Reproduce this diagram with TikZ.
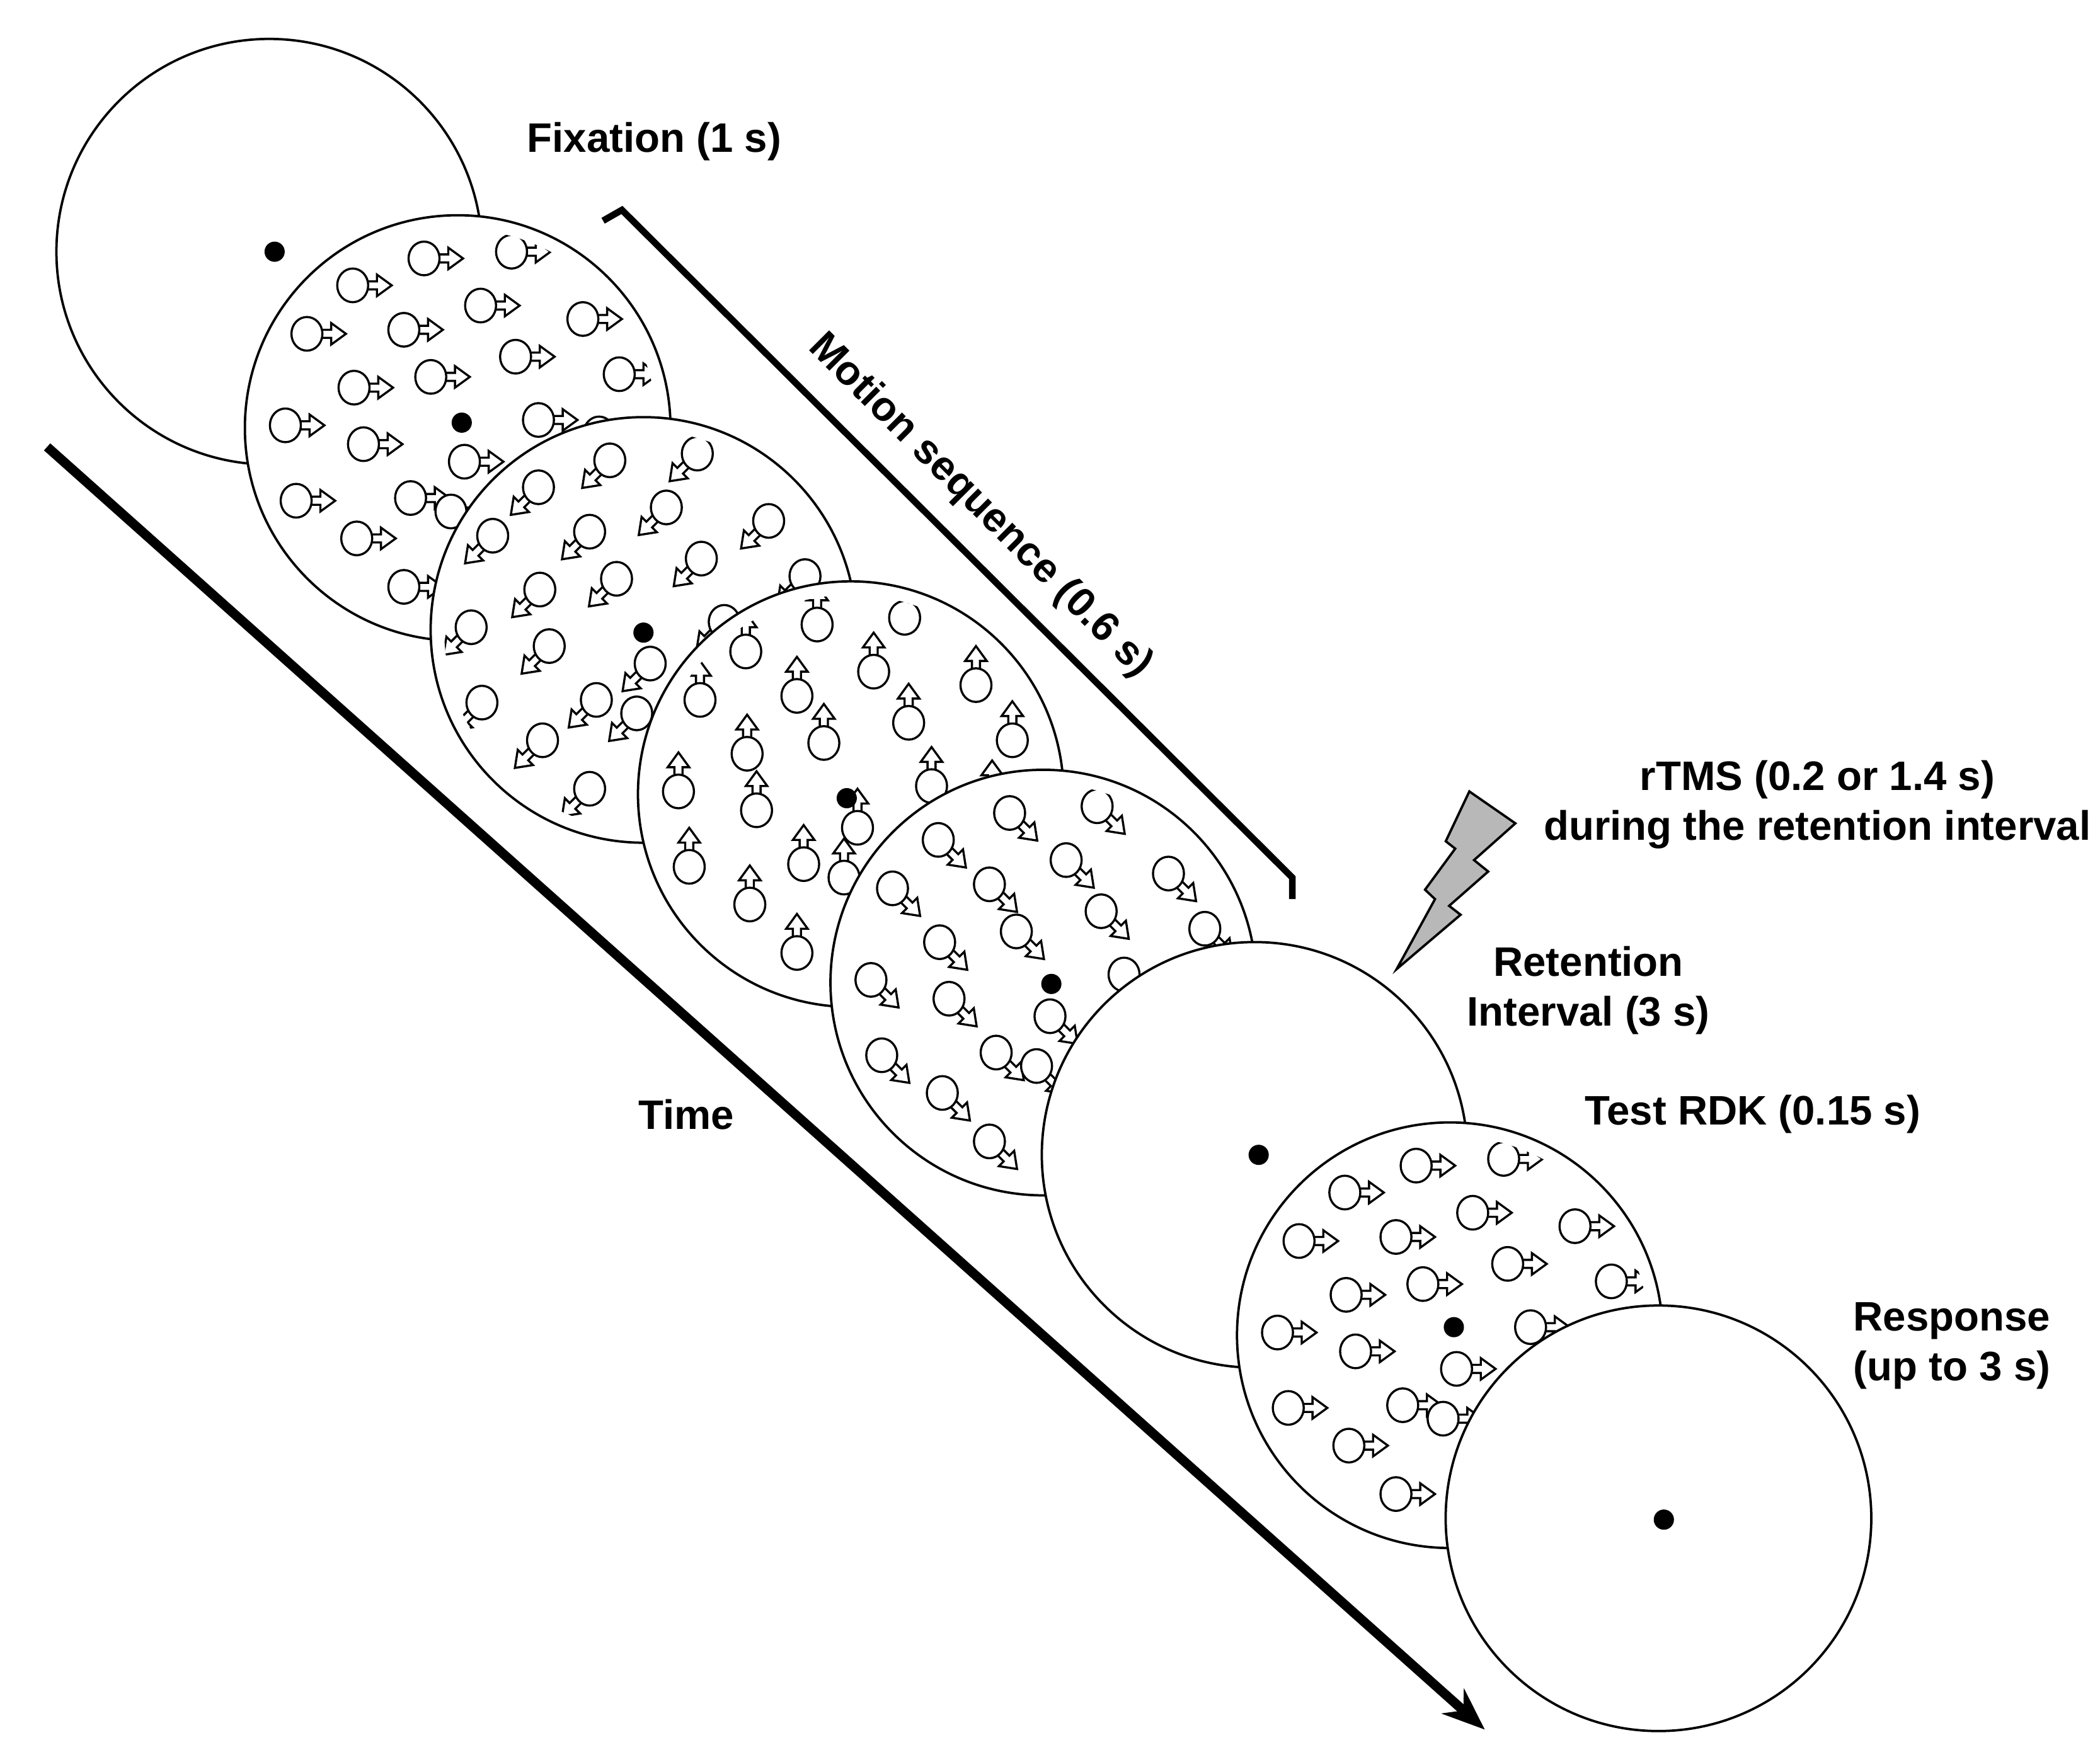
\documentclass[tikz,border=0pt]{standalone}
\usepackage{fontspec}
\setmainfont{Liberation Sans}
\usetikzlibrary{arrows.meta}
\tikzset{
  disk/.style={circle,draw,fill=white,line width=0.5pt,minimum size=3.16cm,inner sep=0pt},
  fix/.style={circle,fill=black,minimum size=0.15cm,inner sep=0pt},
  lbl/.style={font=\fontsize{8.7}{10.5}\selectfont\bfseries,align=center},
  pics/blob/.style={code={
    \draw[fill=white,line width=0.45pt,rotate=#1] (9,-3) -- (18,-3) -- (18,-8) -- (29,0) -- (18,8) -- (18,3) -- (9,3) -- cycle;
    \draw[fill=white,line width=0.45pt] (0,0) ellipse (11.5 and 12.5);
  }}
}
\newcommand\rdkfield[3]{%
  \begin{scope}[shift={(#1,#2)}]
    \clip (0,0) circle (148);
    \foreach \dx/\dy in {-78/106,-25/126,40/131,93/81,17/91,-40/73,-112/70,-77/30,-20/38,43/53,120/40,-128/2,-70/-12,60/6,5/-25,-120/-54,-35/-52,-75/-82,105/-4,-40/-118,30/-95,90/-70,75/-115,122/-56,-5/-62}
      \pic at (\dx,\dy) {blob=#3};
  \end{scope}}
\begin{document}
\begin{tikzpicture}[x=0.01cm,y=0.01cm]
\useasboundingbox (0,0) rectangle (1560,-1305);
% time axis and bracket
\coordinate (t0) at (35,-332);
\coordinate (t1) at (1103,-1285);
\draw[line width=2pt,-{Stealth[length=9pt,width=7pt]}] (t0) -- (t1);
\node[lbl] (time) at (510,-828) {Time};
\coordinate (b0) at (448,-164);
\coordinate (b1) at (462,-156);
\coordinate (b2) at (960,-652);
\coordinate (b3) at (960,-668);
\draw[line width=1.4pt] (b0) -- (b1) -- (b2) -- (b3);
\node[lbl,rotate=-45] (motion) at (728,-376) {Motion sequence (0.6 s)};
% trial displays
\node[disk] (c1) at (200,-187) {};
\node[fix] (f1) at (204,-187) {};
\node[disk] (c2) at (340,-318) {};
\rdkfield{340}{-318}{0}
\node[fix] (f2) at (343,-314) {};
\node[disk] (c3) at (478,-468) {};
\rdkfield{478}{-468}{225}
\node[fix] (f3) at (478,-470) {};
\node[disk] (c4) at (632,-590) {};
\rdkfield{632}{-590}{90}
\node[fix] (f4) at (629,-593) {};
\node[disk] (c5) at (775,-730) {};
\rdkfield{775}{-730}{-45}
\node[fix] (f5) at (781,-731) {};
\node[disk] (c6) at (932,-858) {};
\node[fix] (f6) at (935,-858) {};
\node[disk] (c7) at (1077,-992) {};
\rdkfield{1077}{-992}{0}
\node[fix] (f7) at (1080,-986) {};
\node[disk] (c8) at (1232,-1128) {};
\node[fix] (f8) at (1236,-1129) {};
% rTMS pulse
\draw[fill=black!28,line width=0.5pt] (1091.5,-588) -- (1125.7,-611.7) -- (1095,-639) -- (1105.5,-647.5) -- (1076.5,-673) -- (1085,-679.6) -- (1037.5,-720) -- (1066,-668) -- (1058.6,-661) -- (1081,-630.5) -- (1074,-625) -- cycle;
% labels
\node[lbl] (fixation) at (486,-105) {Fixation (1 s)};
\node[lbl] (rtms) at (1350,-598) {rTMS (0.2 or 1.4 s)\\during the retention interval};
\node[lbl] (retention) at (1180,-736) {Retention\\Interval (3 s)};
\node[lbl] (test) at (1302,-828) {Test RDK (0.15 s)};
\node[lbl] (response) at (1450,-1000) {Response\\(up to 3 s)};
\end{tikzpicture}
\end{document}
